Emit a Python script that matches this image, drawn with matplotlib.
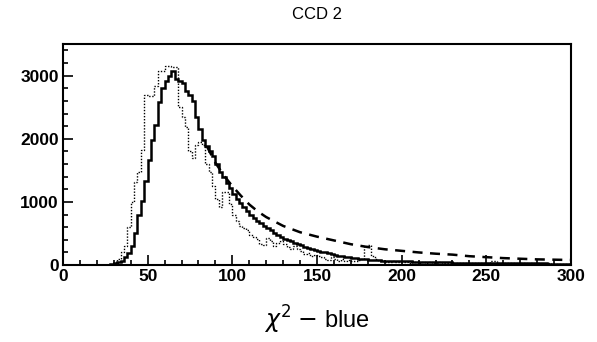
import matplotlib.pyplot as plt
import numpy as np
from matplotlib.ticker import MultipleLocator

# bin edges: 0..300, width 2
edges = np.arange(0, 302, 2)

solid_counts = ([0] * 14 +
    [10, 30, 50, 70, 130, 190] +
    [300, 500, 800, 1010, 1330, 1670, 1980, 2220, 2580, 2810,
     2920, 3000, 3080, 2950, 2920, 2880, 2760, 2700, 2600, 2350] +
    [2150, 1980, 1880, 1800, 1720, 1600, 1480, 1400, 1300, 1220,
     1120, 1040, 980, 920, 850, 800, 750, 700, 660, 620] +
    [580, 550, 510, 480, 450, 420, 400, 380, 350, 330,
     310, 290, 270, 250, 235, 220, 210, 200, 190, 175] +
    [160, 150, 140, 130, 120, 110, 105, 100, 95, 90,
     85, 80, 78, 75, 72, 70, 68, 66, 64, 62] +
    [60, 58, 57, 55, 54, 52, 50, 49, 48, 46,
     45, 44, 43, 42, 41, 40, 39, 38, 37, 36] +
    [35, 35, 34, 34, 33, 33, 32, 32, 31, 31, 30, 30, 29, 29, 28,
     28, 27, 27, 26, 26, 25, 25, 25, 24, 24, 24, 23, 23, 22, 22])

dotted_counts = ([0] * 15 +
    [40, 100, 200, 300, 600] +
    [1000, 1310, 1470, 1830, 2690, 2680, 2680, 2840, 3080, 3080,
     3150, 3150, 3130, 3130, 2500, 2340, 2190, 1800, 1700, 1900] +
    [1950, 1900, 1600, 1470, 1250, 1050, 920, 1150, 1150, 970,
     800, 690, 620, 580, 560, 480, 450, 420, 330, 320] +
    [430, 380, 300, 350, 380, 330, 280, 250, 300, 260,
     220, 180, 190, 150, 160, 140, 120, 90, 80, 130] +
    [100, 70, 90, 60, 80, 70, 60, 80, 90, 300,
     320, 150, 100, 70, 60, 55, 50, 60, 45, 50] +
    [45, 50, 40, 55, 45, 40, 50, 35, 45, 40,
     35, 45, 30, 40, 35, 30, 40, 35, 30, 35] +
    [30, 35, 25, 30, 35, 40, 60, 70, 40, 30, 25, 30, 25, 30, 20,
     25, 30, 20, 25, 20, 25, 20, 20, 25, 20, 15, 20, 20, 15, 20])

# smooth curve (dashed), hidden under the solid one near the peak
fit_x = [85, 90, 95, 100, 105, 110, 115, 120, 130, 140, 150, 160, 170, 180,
         190, 200, 210, 220, 230, 240, 250, 260, 270, 280, 290, 300]
fit_y = [1880, 1620, 1420, 1250, 1100, 960, 850, 760, 620, 520, 450, 390,
         330, 285, 250, 225, 200, 180, 165, 140, 125, 110, 100, 90, 85, 80]

plt.rcParams['font.family'] = ['Liberation Sans', 'DejaVu Sans']

fig = plt.figure(figsize=(5.97, 3.42), dpi=100)
ax = fig.add_axes([0.1055, 0.225, 0.851, 0.646])

ax.stairs(dotted_counts, edges, color='black', lw=1.0, ls=(0, (1, 1.2)))
ax.plot(fit_x, fit_y, color='black', lw=1.8, ls=(0, (4, 3)))
ax.stairs(solid_counts, edges, color='black', lw=1.8)

ax.set_xlim(0, 300)
ax.set_ylim(0, 3500)
ax.xaxis.set_major_locator(MultipleLocator(50))
ax.xaxis.set_minor_locator(MultipleLocator(10))
ax.yaxis.set_major_locator(MultipleLocator(1000))
ax.yaxis.set_minor_locator(MultipleLocator(200))
ax.tick_params(which='both', direction='in', top=False, right=False,
               width=1.2, labelsize=12.5)
ax.tick_params(which='major', length=7, pad=3)
ax.tick_params(which='minor', length=3.5)
for lab in ax.get_xticklabels() + ax.get_yticklabels():
    lab.set_fontweight('bold')
for sp in ax.spines.values():
    sp.set_linewidth(1.5)

ax.set_title('CCD 2', fontsize=12, pad=18)
ax.set_xlabel(r'$\chi^{2}$ $-$ blue', fontsize=17, labelpad=14)

fig.savefig('out.png', dpi=100)
